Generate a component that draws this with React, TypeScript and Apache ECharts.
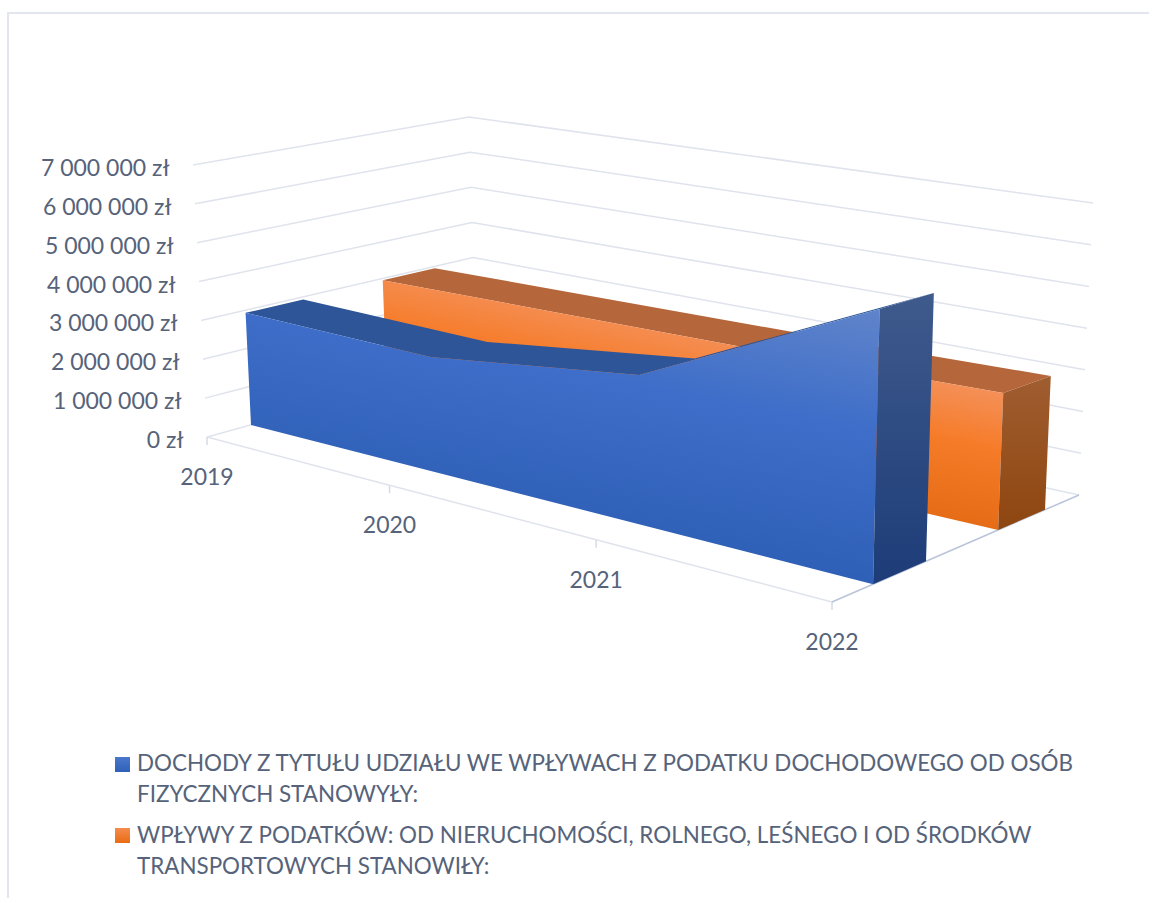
import React, { useEffect, useRef } from "react";
import * as echarts from "echarts";

const years = ["2019", "2020", "2021", "2022"];
const blueName = "DOCHODY Z TYTUŁU UDZIAŁU WE WPŁYWACH Z PODATKU DOCHODOWEGO OD OSÓB\nFIZYCZNYCH STANOWYŁY:";
const orangeName = "WPŁYWY Z PODATKÓW: OD NIERUCHOMOŚCI, ROLNEGO, LEŚNEGO I OD ŚRODKÓW\nTRANSPORTOWYCH STANOWIŁY:";
const blueValues = [2930000, 2820000, 3450000, 5950000];
const orangeValues = [2950000, 3000000, 3050000, 3150000];
const yTicks = [0, 1000000, 2000000, 3000000, 4000000, 5000000, 6000000, 7000000];
const yTickLabels = ["0 zł", "1 000 000 zł", "2 000 000 zł", "3 000 000 zł", "4 000 000 zł", "5 000 000 zł", "6 000 000 zł", "7 000 000 zł"];

type Pt = [number, number];
// layout of the 3D box: corners in order front-left, front-right, back-right, back-left
const floorQuad: Pt[] = [[207, 437], [832, 602], [1079, 495], [476, 363]];
const topQuad: Pt[] = [[193, 165], [838.6, 272], [1093, 203], [469, 117]];
const GRID = { left: 0, top: 0, width: 1000, height: 700 };
const FONT = "Lato";
const TEXT = "#56637a";
const FS = 23;
const LEGEND_FS = 22.4;

function quadMap(q: Pt[], u: number, v: number): Pt {
  const [[x0, y0], [x1, y1], [x2, y2], [x3, y3]] = q;
  const dx1 = x1 - x2, dx2 = x3 - x2, sx = x0 - x1 + x2 - x3;
  const dy1 = y1 - y2, dy2 = y3 - y2, sy = y0 - y1 + y2 - y3;
  const det = dx1 * dy2 - dx2 * dy1;
  const g = (sx * dy2 - dx2 * sy) / det;
  const h = (dx1 * sy - sx * dy1) / det;
  const a = x1 - x0 + g * x1, b = x3 - x0 + h * x3;
  const d = y1 - y0 + g * y1, e = y3 - y0 + h * y3;
  const w = g * u + h * v + 1;
  return [(a * u + b * v + x0) / w, (d * u + e * v + y0) / w];
}

// chart pixel (from the hidden cartesian axes) + depth -> projected pixel
function project(p: number[], depth: number): Pt {
  const u = (p[0] - GRID.left) / GRID.width;
  const t = (GRID.top + GRID.height - p[1]) / GRID.height;
  const f = quadMap(floorQuad, u, depth);
  const c = quadMap(topQuad, u, depth);
  return [f[0] + (c[0] - f[0]) * t, f[1] + (c[1] - f[1]) * t];
}

function lg(x: number, y: number, x2: number, y2: number, stops: [number, string][]) {
  return new echarts.graphic.LinearGradient(x, y, x2, y2, stops.map(([offset, color]) => ({ offset, color })));
}

function areaSeries(name: string, values: number[], z0: number, z1: number, front: any, top: string, side: any) {
  return {
    type: "custom",
    name,
    silent: true,
    data: values.map((v, i) => [i, v]),
    renderItem: (_: any, api: any) => {
      const i = api.value(0) as number;
      if (i < values.length - 1) return { type: "group", children: [] };
      const poly = (points: Pt[], fill: any) => ({ type: "polygon", shape: { points }, style: { fill, stroke: null, lineWidth: 0 } });
      const tops = values.map((v, k) => api.coord([k, v]));
      const b0 = api.coord([0, 0]);
      const bl = api.coord([i, 0]);
      const tl = tops[i];
      const children: any[] = [
        poly([...tops.map((p) => project(p, z0)), ...tops.slice().reverse().map((p) => project(p, z1))], top),
        poly([...tops.map((p) => project(p, z0)), project(bl, z0), project(b0, z0)], front),
        poly([project(tl, z0), project(tl, z1), project(bl, z1), project(bl, z0)], side),
      ];
      return { type: "group", children };
    },
  };
}

export default function App() {
  const ref = useRef<HTMLDivElement>(null);
  useEffect(() => {
    const chart = echarts.init(ref.current!, null, { renderer: "svg" });
    const legendTop = (lines: string, y: number, x = 137) => ({
      type: "text",
      x,
      y,
      style: { text: lines, font: `${LEGEND_FS}px ${FONT}`, fill: TEXT, lineHeight: 31, textVerticalAlign: "top" },
    });
    const blueFront = lg(1, 0, 0.588, 0.928, [[0, "#6084ca"], [0.4, "#3e6ec9"], [1, "#2c5db3"]]);
    const orangeFront = lg(0, -0.059, -0.238, 0.408, [[0, "#f49058"], [0.4, "#f67b28"], [1, "#e56a14"]]);
    chart.setOption({
      animation: false,
      backgroundColor: "#ffffff",
      grid: { ...GRID, containLabel: false },
      xAxis: { type: "category", data: years, boundaryGap: false, show: false },
      yAxis: { type: "value", min: 0, max: 7000000, interval: 1000000, show: false },
      graphic: [
        { type: "line", shape: { x1: 8, y1: 13, x2: 1149, y2: 13 }, style: { stroke: "#e3e6ee", lineWidth: 2 } },
        { type: "line", shape: { x1: 8, y1: 12, x2: 8, y2: 898 }, style: { stroke: "#e3e6ee", lineWidth: 2 } },
        { type: "rect", shape: { x: 115, y: 757, width: 15, height: 15 }, style: { fill: lg(0, 0, 0, 1, [[0, "#4a78cc"], [1, "#2f60b8"]]) } },
        { type: "rect", shape: { x: 115, y: 828, width: 15, height: 15 }, style: { fill: lg(0, 0, 0, 1, [[0, "#f58c4c"], [1, "#e96c14"]]) } },
        legendTop(blueName, 747),
        legendTop(orangeName, 819),
      ],
      series: [
        {
          type: "custom",
          name: "siatka",
          silent: true,
          data: yTicks.map((t, i) => [0, t, i]),
          renderItem: (_: any, api: any) => {
            const t = api.value(1);
            const i = api.value(2) as number;
            const left = api.coord([0, t]);
            const right = api.coord([years.length - 1, t]);
            const A = project(left, 0), D = project(left, 1), C = project(right, 1);
            const children: any[] = [
              { type: "polyline", shape: { points: [A, D, C] }, style: { stroke: "#dfe3ec", lineWidth: 1.5, fill: null } },
              {
                type: "text",
                x: A[0] - 23.5,
                y: A[1] + 2,
                style: { text: yTickLabels[i], align: "right", verticalAlign: "middle", font: `${FS}px ${FONT}`, fill: TEXT },
              },
            ];
            return { type: "group", children };
          },
        },
        {
          type: "custom",
          name: "oś",
          silent: true,
          data: years.map((y, i) => [i, 0]),
          renderItem: (_: any, api: any) => {
            const i = api.value(0) as number;
            const p = project(api.coord([i, 0]), 0);
            const children: any[] = [
              { type: "line", shape: { x1: p[0], y1: p[1], x2: p[0], y2: p[1] + 8 }, style: { stroke: "#d5dae6", lineWidth: 1.5 } },
              {
                type: "text",
                x: p[0],
                y: p[1] + 39,
                style: { text: years[i], align: "center", verticalAlign: "middle", font: `${FS}px ${FONT}`, fill: TEXT },
              },
            ];
            if (i < years.length - 1) {
              const q = project(api.coord([i + 1, 0]), 0);
              children.push({ type: "line", shape: { x1: p[0], y1: p[1], x2: q[0], y2: q[1] }, style: { stroke: "#dfe3ec", lineWidth: 1.5 } });
            } else {
              const q = project(api.coord([i, 0]), 1);
              children.push({ type: "line", shape: { x1: p[0], y1: p[1], x2: q[0], y2: q[1] }, style: { stroke: "#b9c4da", lineWidth: 1.5 } });
            }
            return { type: "group", children };
          },
        },
        areaSeries(orangeName, orangeValues, 0.645, 0.847, orangeFront, "#b5673b", lg(0, 0, 0, 1, [[0, "#a05d30"], [1, "#8e4610"]])),
        areaSeries(blueName, blueValues, 0.15, 0.352, blueFront, "#2d5597", lg(0, 0, 0, 1, [[0, "#3f5a8c"], [1, "#1d3c78"]])),
      ],
    });
    return () => chart.dispose();
  }, []);
  return <div ref={ref} style={{ position: "fixed", left: 0, top: 0, width: 1149, height: 898 }} />;
}
